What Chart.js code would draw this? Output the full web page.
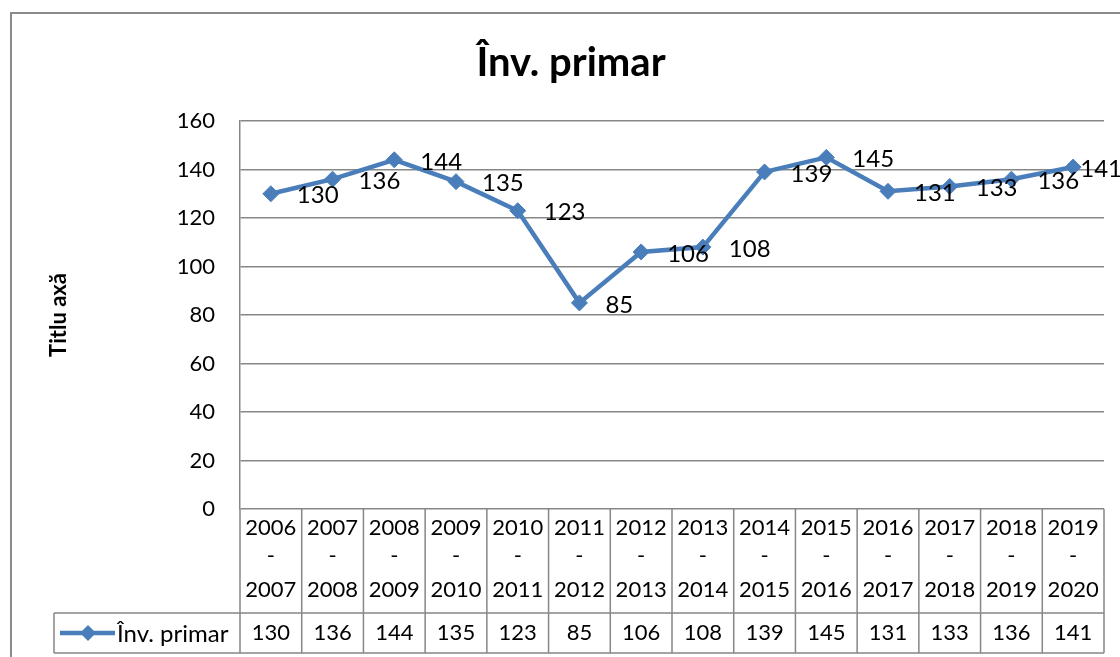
<!DOCTYPE html>
<html>
<head>
<meta charset="utf-8">
<script src="https://cdn.jsdelivr.net/npm/chart.js@4"></script>
<style>
  html, body {margin: 0; padding: 0; background: #fff;}
  #wrap {width: 1120px; height: 657px;}
</style>
</head>
<body>
<div id="wrap"><canvas id="chart_primar" width="1120" height="657"></canvas></div>
<script>
//data - categories / values
const categories = ['2006-2007', '2007-2008', '2008-2009', '2009-2010', '2010-2011', '2011-2012', '2012-2013',
    '2013-2014', '2014-2015', '2015-2016', '2016-2017', '2017-2018', '2018-2019', '2019-2020'];
const seriesName = 'Înv. primar';
const primarValues = [130, 136, 144, 135, 123, 85, 106, 108, 139, 145, 131, 133, 136, 141];
const yTicks = [0, 20, 40, 60, 80, 100, 120, 140, 160];
const chartTitle = 'Înv. primar';
const yTitle = 'Titlu axă';

const FONT = 'Lato, "Liberation Sans", sans-serif';
const LINE = '#4A7EBB';
const GRID = '#878787';

//plugin - frame, title, labels, data table
const excelPlugin = {
    id: 'excelLook',
    beforeDraw(chart) {
        const {ctx} = chart;
        ctx.save();
        ctx.fillStyle = '#fff';
        ctx.fillRect(0, 0, chart.width, chart.height);
        ctx.strokeStyle = '#8a8a8a';
        ctx.lineWidth = 2;
        ctx.strokeRect(11, 13, 1130, 660);
        ctx.restore();
    },
    afterDraw(chart) {
        const {ctx, chartArea} = chart;
        const x = chart.scales.x;
        const meta = chart.getDatasetMeta(0);
        const step = x.getPixelForValue(1) - x.getPixelForValue(0);
        ctx.save();

        //title
        ctx.fillStyle = '#000';
        ctx.textAlign = 'center';
        ctx.textBaseline = 'alphabetic';
        ctx.font = 'bold 40px ' + FONT;
        ctx.fillText(chartTitle, 571, 76);

        //y title
        ctx.textBaseline = 'middle';
        ctx.save();
        ctx.translate(59, (chartArea.top + chartArea.bottom) / 2);
        ctx.rotate(-Math.PI / 2);
        ctx.font = 'bold 22px ' + FONT;
        ctx.fillText(yTitle, 0, 0);
        ctx.restore();

        //data labels
        ctx.font = '24px ' + FONT;
        ctx.textAlign = 'left';
        meta.data.forEach((pt, i) => {
            const txt = String(primarValues[i]);
            const w = ctx.measureText(txt).width;
            const lx = Math.min(pt.x + 26, chart.width - w + 2);
            ctx.fillText(txt, lx, pt.y + 2);
        });

        //data table
        const left = x.getPixelForValue(0) - step / 2;
        const right = x.getPixelForValue(categories.length - 1) + step / 2;
        const top = chartArea.bottom;
        const rowTop = 613;
        const rowBottom = 653;
        ctx.strokeStyle = GRID;
        ctx.lineWidth = 1.5;
        ctx.beginPath();
        ctx.moveTo(54, rowTop); ctx.lineTo(right, rowTop);
        ctx.moveTo(54, rowBottom); ctx.lineTo(right, rowBottom);
        ctx.moveTo(54, rowTop); ctx.lineTo(54, rowBottom);
        for (let i = 0; i <= categories.length; i++) {
            const vx = left + i * step;
            ctx.moveTo(vx, top); ctx.lineTo(vx, rowBottom);
        }
        ctx.stroke();

        ctx.fillStyle = '#000';
        ctx.textAlign = 'center';
        ctx.font = '22px ' + FONT;
        categories.forEach((c, i) => {
            const cx = x.getPixelForValue(i);
            const [a, b] = c.split('-');
            ctx.fillText(a, cx, 528);
            ctx.fillText('-', cx, 556);
            ctx.fillText(b, cx, 590);
            ctx.fillText(String(primarValues[i]), cx, 633);
        });

        //legend key
        const ly = 633;
        ctx.strokeStyle = LINE;
        ctx.lineWidth = 4.5;
        ctx.beginPath();
        ctx.moveTo(60, ly); ctx.lineTo(115, ly);
        ctx.stroke();
        ctx.fillStyle = LINE;
        ctx.beginPath();
        ctx.moveTo(88, ly - 8); ctx.lineTo(96, ly); ctx.lineTo(88, ly + 8); ctx.lineTo(80, ly);
        ctx.closePath();
        ctx.fill();
        ctx.fillStyle = '#000';
        ctx.textAlign = 'left';
        ctx.font = '24px ' + FONT;
        ctx.fillText(seriesName, 117, ly + 1);

        ctx.restore();
    }
};

new Chart(document.getElementById('chart_primar'), {
    type: 'line',
    data: {
        labels: categories,
        datasets: [{
            label: seriesName,
            data: primarValues,
            borderColor: LINE,
            backgroundColor: LINE,
            borderWidth: 4.5,
            tension: 0,
            pointStyle: 'rectRot',
            pointRadius: 8,
            pointBackgroundColor: LINE,
            pointBorderColor: LINE,
            pointBorderWidth: 1,
            clip: false
        }]
    },
    options: {
        responsive: false,
        animation: false,
        devicePixelRatio: 1,
        layout: {padding: {top: 121, bottom: 148, left: 0, right: 16}},
        plugins: {
            legend: {display: false},
            tooltip: {enabled: false}
        },
        scales: {
            x: {
                offset: true,
                display: false,
                grid: {display: false}
            },
            y: {
                min: yTicks[0],
                max: yTicks[yTicks.length - 1],
                afterFit(scale) { scale.width = 240; },
                afterBuildTicks(scale) { scale.ticks = yTicks.map(v => ({value: v})); },
                ticks: {
                    padding: 25,
                    color: '#000',
                    font: {family: FONT, size: 22}
                },
                grid: {color: GRID, lineWidth: 1.5, drawTicks: false},
                border: {display: true, color: GRID, width: 1.5}
            }
        }
    },
    plugins: [excelPlugin]
});
</script>
</body>
</html>
